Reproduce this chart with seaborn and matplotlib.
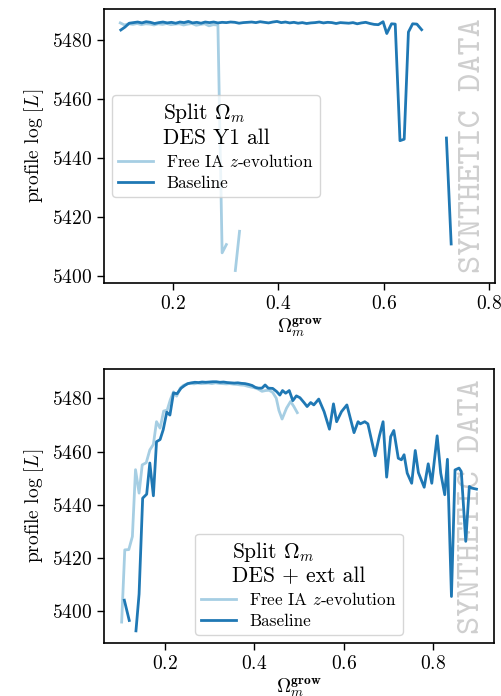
import numpy as np
import pandas as pd
import matplotlib
matplotlib.use("Agg")
import matplotlib.pyplot as plt
import seaborn as sns

# ---------------- data ----------------
LBL_FREE = r"Free IA $z$-evolution"
LBL_BASE = "Baseline"
series_order = [LBL_FREE, LBL_BASE]
colors = ["#a6cee3", "#1f78b4"]

# Top panel: DES Y1 all
top_free_x1 = [0.101, 0.109, 0.117, 0.125, 0.133, 0.141, 0.149, 0.157, 0.165, 0.173,
               0.181, 0.189, 0.197, 0.205, 0.213, 0.221, 0.229, 0.237, 0.245, 0.253,
               0.261, 0.269, 0.277, 0.286, 0.294, 0.302]
top_free_y1 = [5485.9, 5485.2, 5485.6, 5485.4, 5485.7, 5485.3, 5485.6, 5485.5, 5485.2, 5485.6,
               5485.4, 5485.7, 5485.3, 5485.5, 5485.6, 5485.2, 5485.5, 5485.7, 5485.1, 5485.4,
               5485.6, 5484.9, 5485.3, 5485.2, 5408.0, 5410.8]
top_free_x2 = [0.319, 0.327]
top_free_y2 = [5402.0, 5415.3]

top_base_x1 = [0.102, 0.110, 0.118, 0.126, 0.134, 0.142, 0.150, 0.158, 0.166, 0.174,
               0.182, 0.190, 0.198, 0.206, 0.214, 0.222, 0.230, 0.238, 0.246, 0.254,
               0.262, 0.270, 0.278, 0.286, 0.294, 0.302, 0.310, 0.318, 0.326, 0.334,
               0.342, 0.350, 0.358, 0.366, 0.374, 0.382, 0.390, 0.398, 0.406, 0.414,
               0.422, 0.430, 0.438, 0.446, 0.454, 0.462, 0.470, 0.478, 0.486, 0.494,
               0.502, 0.510, 0.518, 0.526, 0.534, 0.542, 0.550, 0.558, 0.566, 0.574,
               0.582, 0.590, 0.599, 0.606, 0.615, 0.622, 0.631, 0.639, 0.647, 0.655,
               0.663, 0.672]
top_base_y1 = [5483.5, 5484.5, 5485.8, 5486.0, 5486.2, 5485.9, 5486.3, 5486.1, 5485.7, 5486.0,
               5486.2, 5485.9, 5486.1, 5485.8, 5486.2, 5486.0, 5486.4, 5485.9, 5486.1, 5485.8,
               5486.2, 5486.0, 5486.2, 5485.9, 5486.1, 5486.0, 5486.2, 5486.1, 5485.8, 5486.0,
               5486.1, 5486.2, 5486.0, 5486.3, 5486.1, 5485.9, 5486.2, 5486.4, 5486.0, 5486.2,
               5485.9, 5486.1, 5485.8, 5486.0, 5485.7, 5485.9, 5486.0, 5486.2, 5485.9, 5486.1,
               5486.0, 5485.7, 5486.0, 5485.9, 5485.8, 5486.0, 5485.6, 5485.9, 5486.1, 5485.7,
               5485.4, 5485.3, 5486.3, 5482.3, 5485.6, 5485.5, 5446.0, 5446.5, 5482.8, 5485.6,
               5485.5, 5483.6]
top_base_x2 = [0.719, 0.728]
top_base_y2 = [5446.9, 5411.0]

# Bottom panel: DES + ext all
bot_free_x = [0.103, 0.110, 0.119, 0.127, 0.134, 0.142, 0.149, 0.158, 0.166, 0.174,
              0.181, 0.189, 0.197, 0.205, 0.212, 0.219, 0.226, 0.234, 0.241, 0.249,
              0.257, 0.265, 0.273, 0.281, 0.289, 0.297, 0.305, 0.313, 0.321, 0.329,
              0.337, 0.345, 0.353, 0.361, 0.369, 0.377, 0.385, 0.393, 0.401, 0.409,
              0.417, 0.425, 0.433, 0.441, 0.449, 0.455, 0.462, 0.472, 0.481, 0.488,
              0.496]
bot_free_y = [5396.0, 5423.1, 5423.2, 5428.1, 5453.2, 5444.4, 5455.0, 5455.8, 5460.6, 5462.7,
              5471.2, 5468.8, 5475.2, 5475.6, 5479.5, 5482.4, 5480.8, 5483.8, 5484.8, 5485.4,
              5485.6, 5485.4, 5485.7, 5485.5, 5485.6, 5485.7, 5485.5, 5485.8, 5485.6, 5485.5,
              5485.4, 5485.5, 5485.3, 5485.2, 5485.0, 5484.9, 5484.5, 5484.2, 5483.9, 5483.4,
              5482.6, 5482.9, 5483.0, 5482.2, 5480.0, 5475.4, 5472.2, 5476.3, 5478.8, 5477.0,
              5474.6]

bot_base_x1 = [0.109, 0.120]
bot_base_y1 = [5404.2, 5396.6]
bot_base_x2 = [0.135, 0.142, 0.150, 0.159, 0.166, 0.174, 0.181, 0.189, 0.196, 0.204,
               0.211, 0.219, 0.227, 0.236, 0.244, 0.251, 0.259, 0.267, 0.275, 0.283,
               0.291, 0.299, 0.307, 0.315, 0.323, 0.331, 0.339, 0.347, 0.355, 0.363,
               0.371, 0.379, 0.387, 0.395, 0.402, 0.409, 0.417, 0.424, 0.431, 0.441,
               0.450, 0.457, 0.463, 0.470, 0.478, 0.486, 0.494, 0.502, 0.511, 0.518,
               0.526, 0.533, 0.544, 0.556, 0.568, 0.577, 0.584, 0.595, 0.607, 0.623,
               0.632, 0.637, 0.647, 0.654, 0.670, 0.680, 0.688, 0.696, 0.705, 0.712,
               0.722, 0.729, 0.735, 0.742, 0.752, 0.760, 0.767, 0.780, 0.789, 0.797,
               0.809, 0.817, 0.826, 0.832, 0.841, 0.849, 0.858, 0.863, 0.873, 0.881,
               0.886, 0.897]
bot_base_y2 = [5392.7, 5406.5, 5442.5, 5444.0, 5455.7, 5443.4, 5463.7, 5464.5, 5468.2, 5474.8,
               5473.7, 5482.0, 5481.7, 5483.8, 5484.8, 5485.5, 5485.8, 5486.0, 5485.9, 5486.1,
               5486.0, 5486.1, 5486.2, 5486.2, 5486.0, 5486.1, 5485.9, 5485.8, 5485.7, 5485.8,
               5485.6, 5485.5, 5485.2, 5484.8, 5484.1, 5483.8, 5483.8, 5485.0, 5483.8, 5483.7,
               5482.5, 5481.2, 5482.9, 5481.9, 5482.9, 5479.1, 5480.9, 5480.2, 5478.4, 5476.9,
               5478.4, 5477.5, 5479.7, 5475.0, 5468.4, 5477.9, 5471.2, 5475.0, 5477.5, 5467.1,
               5471.2, 5470.4, 5471.2, 5470.4, 5458.4, 5466.0, 5471.2, 5450.4, 5465.6, 5467.9,
               5457.5, 5456.9, 5458.8, 5451.9, 5448.1, 5460.4, 5452.1, 5446.6, 5455.4, 5448.1,
               5465.9, 5451.9, 5443.8, 5457.1, 5405.6, 5453.1, 5453.8, 5452.5, 5426.3, 5446.9,
               5446.3, 5445.9]

titles = [r"Split $\Omega_m$" + "\n" + "DES Y1 all",
          r"Split $\Omega_m$" + "\n" + "DES + ext all"]
xlabel = r"$\Omega_m^{\mathbf{grow}}$"
ylabel = r"profile $\log\,[L]$"
watermark = "SYNTHETIC DATA"


def build(segments):
    rows = []
    for k, (name, xs, ys) in enumerate(segments):
        for xv, yv in zip(xs, ys):
            rows.append({"x": xv, "y": yv, "series": name, "seg": k})
    return pd.DataFrame(rows)


df_top = build([(LBL_FREE, top_free_x1, top_free_y1),
                (LBL_FREE, top_free_x2, top_free_y2),
                (LBL_BASE, top_base_x1, top_base_y1),
                (LBL_BASE, top_base_x2, top_base_y2)])
df_bot = build([(LBL_FREE, bot_free_x, bot_free_y),
                (LBL_BASE, bot_base_x1, bot_base_y1),
                (LBL_BASE, bot_base_x2, bot_base_y2)])

# ---------------- style ----------------
plt.rcParams.update({
    "font.family": "serif",
    "font.serif": ["cmr10"],
    "mathtext.fontset": "cm",
    "axes.formatter.use_mathtext": True,
    "axes.unicode_minus": False,
    "axes.linewidth": 1.2,
    "xtick.major.size": 5,
    "ytick.major.size": 5,
    "xtick.major.width": 1.0,
    "ytick.major.width": 1.0,
    "xtick.labelsize": 14,
    "ytick.labelsize": 14,
    "axes.labelsize": 14,
})

fig = plt.figure(figsize=(5.02, 6.96), dpi=100)
ax1 = fig.add_axes([0.207, 0.5934, 0.779, 0.3937])
ax2 = fig.add_axes([0.207, 0.0757, 0.7775, 0.3937])
palette = dict(zip(series_order, colors))

for ax, df, title, loc in [(ax1, df_top, titles[0], "center left"),
                           (ax2, df_bot, titles[1], "lower center")]:
    sns.lineplot(data=df, x="x", y="y", hue="series", hue_order=series_order,
                 units="seg", estimator=None, palette=palette, linewidth=2,
                 ax=ax, zorder=3)
    handles, labels = ax.get_legend_handles_labels()
    leg = ax.legend(handles, labels, title=title, loc=loc, fontsize=12.3,
                    title_fontsize=15.5, labelspacing=0.3, borderpad=0.35,
                    handlelength=2.0)
    for h in leg.legend_handles:
        h.set_linewidth(2)
    ax.set_xlabel(xlabel, labelpad=2)
    ax.set_ylabel(ylabel)
    ax.text(0.945, 0.5, watermark, transform=ax.transAxes, rotation=90,
            ha="center", va="center", family="cmtt10", fontsize=25,
            color="#cfcfcf", zorder=0)

ax1.set_xlim(0.07, 0.811)

fig.savefig("out.png", dpi=100)
